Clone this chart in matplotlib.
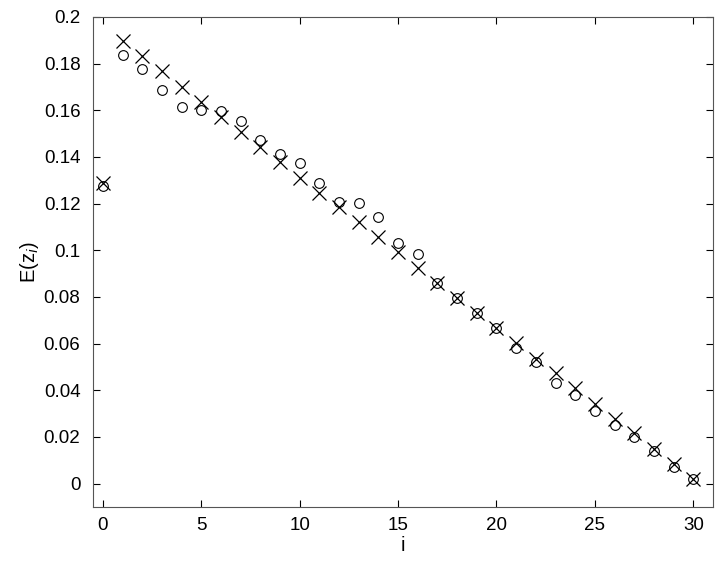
import matplotlib
matplotlib.use("Agg")
import matplotlib.pyplot as plt

plt.rcParams['font.family'] = ['Liberation Sans', 'DejaVu Sans']

# sample index
i = list(range(31))

# crosses
e_cross = [0.1288, 0.1897, 0.1833, 0.1768, 0.1700, 0.1635, 0.1570, 0.1506, 0.1442, 0.1378,
           0.1309, 0.1245, 0.1185, 0.1120, 0.1056, 0.0991, 0.0923, 0.0858, 0.0794, 0.0730,
           0.0665, 0.0601, 0.0536, 0.0472, 0.0408, 0.0343, 0.0279, 0.0215, 0.0150, 0.0086,
           0.0021]

# circles
e_circ = [0.1275, 0.1837, 0.1777, 0.1687, 0.1614, 0.1600, 0.1597, 0.1554, 0.1472, 0.1412,
          0.1373, 0.1288, 0.1206, 0.1202, 0.1142, 0.1030, 0.0983, 0.0858, 0.0794, 0.0730,
          0.0665, 0.0580, 0.0520, 0.0433, 0.0378, 0.0313, 0.0253, 0.0202, 0.0142, 0.0073,
          0.0021]

yticks = [0, 0.02, 0.04, 0.06, 0.08, 0.1, 0.12, 0.14, 0.16, 0.18, 0.2]
ylabels = ['0', '0.02', '0.04', '0.06', '0.08', '0.1', '0.12', '0.14', '0.16', '0.18', '0.2']

fig = plt.figure(figsize=(7.18, 5.63), dpi=100)
ax = fig.add_axes([0.1295, 0.0995, 0.8635, 0.8705])

ax.plot(i, e_circ, 'o', mfc='none', mec='black', ms=7, mew=0.8)
ax.plot(i, e_cross, 'x', color='black', ms=10, mew=0.9)

ax.set_xlim(-0.5, 31)
ax.set_ylim(-0.01, 0.2)
ax.set_xticks([0, 5, 10, 15, 20, 25, 30])
ax.set_yticks(yticks)
ax.set_yticklabels(ylabels)
ax.tick_params(direction='in', top=True, right=True, labelsize=13.5, length=5)
ax.tick_params(axis='y', pad=9)
ax.tick_params(axis='x', pad=7)
for s in ax.spines.values():
    s.set_color('#555555')

ax.set_xlabel('i', fontsize=14.5, labelpad=2)
ax.set_ylabel('E(z$_i$)', fontsize=14.5, labelpad=2)

fig.savefig('out.png', dpi=100)
